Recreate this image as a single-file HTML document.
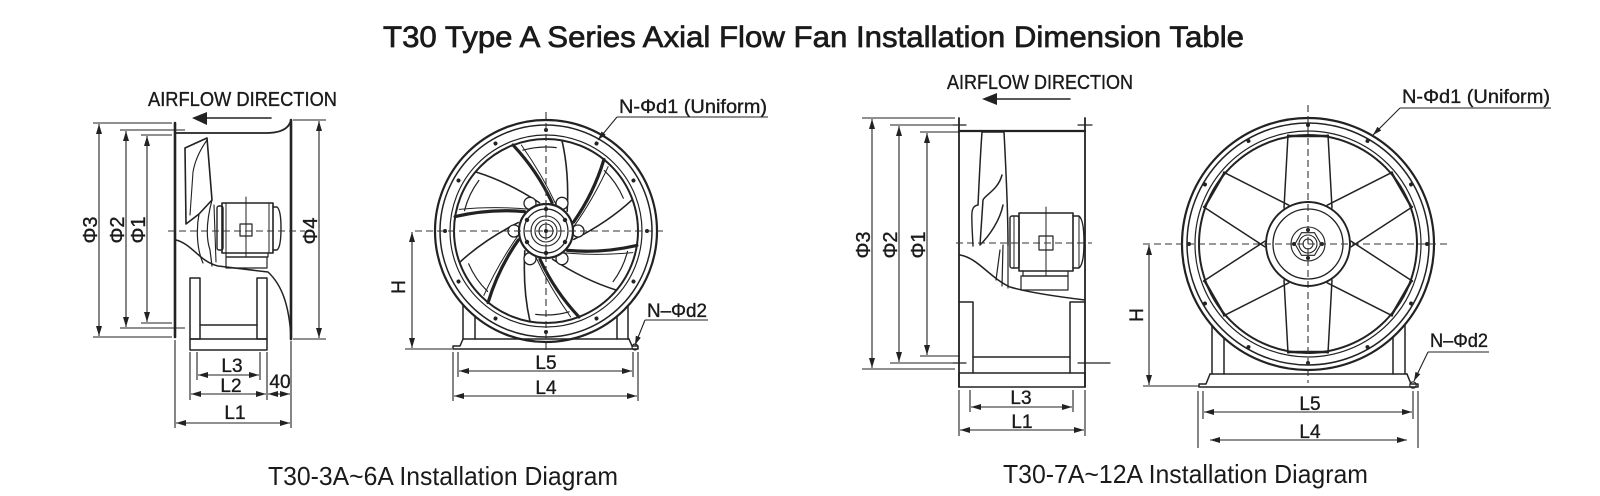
<!DOCTYPE html>
<html>
<head>
<meta charset="utf-8">
<style>
  html,body{margin:0;padding:0;background:#fff;}
  svg{display:block;}
  text{font-family:"Liberation Sans", sans-serif; fill:#1a1a1a;}
  .o{stroke:#222;fill:none;stroke-linejoin:round;stroke-linecap:round;}
  .d{stroke:#222;fill:none;stroke-width:1.1;}
  .dm{marker-start:url(#ar);marker-end:url(#ar);}
  .ds{stroke:#333;fill:none;stroke-width:1.1;stroke-dasharray:7 4;}
  .lb{stroke:#1a1a1a;stroke-width:0.35;}
</style>
</head>
<body>
<svg width="1600" height="496" viewBox="0 0 1600 496" xmlns="http://www.w3.org/2000/svg">
<defs>
  <marker id="ar" viewBox="0 0 10 6" refX="10" refY="3" markerWidth="10" markerHeight="6" markerUnits="userSpaceOnUse" orient="auto-start-reverse">
    <path d="M0,0 L10,3 L0,6 z" fill="#222"/>
  </marker>
  <marker id="ae" viewBox="0 0 10 6" refX="10" refY="3" markerWidth="9" markerHeight="6" markerUnits="userSpaceOnUse" orient="auto">
    <path d="M0,0 L10,3 L0,6 z" fill="#222"/>
  </marker>
</defs>
<rect width="1600" height="496" fill="#fff"/>

<!-- Title -->
<text x="383" y="47" font-size="30" textLength="861" lengthAdjust="spacingAndGlyphs" stroke="#1a1a1a" stroke-width="0.7">T30 Type A Series Axial Flow Fan Installation Dimension Table</text>

<!-- ================= LEFT SIDE VIEW ================= -->
<text class="lb" x="148" y="106" font-size="20" textLength="189" lengthAdjust="spacingAndGlyphs">AIRFLOW DIRECTION</text>
<path d="M207,118 L271,118" class="o" stroke-width="1.6"/>
<path d="M192,118 L207,112 L207,125 Z" fill="#222"/>

<g class="o">
  <path d="M175,123 L175,337" stroke-width="2.6"/>
  <path d="M176,133 L266,133 C280,133 289,129 291,120" stroke-width="1.8"/>
  <path d="M291,120 L291,339" stroke-width="2.6"/>
  <path d="M176,240 C192,244 200,262 218,266 L268,272 C282,285 289,305 291,337" stroke-width="1.5"/>
  <!-- blade -->
  <path d="M185,148 L207,138 L212,200 L199,214 L186,224 Z" stroke-width="1.6"/>
  <path d="M207,140 C200,150 195,160 193,172 L190,215" stroke-width="1.1"/>
  <path d="M212,200 C208,215 205,235 210,250 L212,266" stroke-width="1.2"/>
  <path d="M199,214 C196,230 197,250 203,263" stroke-width="1.2"/>
  <path d="M214,205 L216,262" stroke-width="1.1"/>
  <!-- motor -->
  <rect x="222" y="203" width="51" height="50" stroke-width="1.6"/>
  <rect x="217" y="206" width="6" height="44" rx="2" stroke-width="1.4"/>
  <path d="M273,207 L277,207 Q281,210 281,228 Q281,247 277,250 L273,250" stroke-width="1.4"/>
  <path d="M226,203 L226,253 M269,203 L269,253" stroke-width="1"/>
  <path d="M226,253 L226,257 L268,257 L268,253" stroke-width="1.2"/>
  <rect x="226" y="257" width="41" height="11" stroke-width="1.2"/>
  <path d="M246,197 L246,257" stroke-width="1"/>
  <rect x="240" y="224" width="12" height="12" stroke-width="1.2"/>
  <!-- support -->
  <rect x="190" y="278" width="10" height="61" stroke-width="1.5"/>
  <rect x="257" y="278" width="10" height="61" stroke-width="1.5"/>
  <path d="M200,325 L257,325" stroke-width="1.5"/>
  <rect x="190" y="339" width="77" height="11" stroke-width="1.5"/>
</g>
<path d="M168,231 L305,231" class="ds"/>

<!-- dims left side -->
<path d="M93,123 H172 M93,337 H172 M120,130 H185 M120,328 H185 M141,135 H172 M141,323 H172 M293,120 H326 M293,339 H326" class="d"/>
<line x1="99" y1="124" x2="99" y2="336" class="d dm"/>
<line x1="126" y1="131" x2="126" y2="327" class="d dm"/>
<line x1="147" y1="136" x2="147" y2="322" class="d dm"/>
<line x1="319" y1="121" x2="319" y2="338" class="d dm"/>
<text class="lb" transform="translate(97,230) rotate(-90)" font-size="20" text-anchor="middle">Φ3</text>
<text class="lb" transform="translate(124,230) rotate(-90)" font-size="20" text-anchor="middle">Φ2</text>
<text class="lb" transform="translate(145,230) rotate(-90)" font-size="20" text-anchor="middle">Φ1</text>
<text class="lb" transform="translate(317,231) rotate(-90)" font-size="20" text-anchor="middle">Φ4</text>

<path d="M197,352 V380 M260,352 V380 M190,352 V400 M267,352 V400 M291,341 V428 M175,340 V428" class="d"/>
<line x1="198" y1="375" x2="259" y2="375" class="d dm"/>
<line x1="191" y1="394" x2="266" y2="394" class="d dm"/>
<line x1="268" y1="394" x2="290" y2="394" class="d dm"/>
<line x1="176" y1="423" x2="290" y2="423" class="d dm"/>
<text class="lb" x="232" y="372" font-size="19" text-anchor="middle">L3</text>
<text class="lb" x="231" y="392" font-size="19" text-anchor="middle">L2</text>
<text class="lb" x="280" y="388" font-size="19" text-anchor="middle">40</text>
<text class="lb" x="235" y="419" font-size="19" text-anchor="middle">L1</text>

<!-- ================= LEFT FRONT VIEW ================= -->
<g class="o">
  <path d="M463,305 L463,339 M475,316 L475,339 M617,316 L617,339 M628,306 L628,339" stroke-width="1.5"/>
  <path d="M463,339 L629,339" stroke-width="1.6"/>
  <path d="M463,339 L460,346 L453,346 L453,349 L638,349 L638,346 L632,346 L629,339" stroke-width="1.5"/>
  <circle cx="635" cy="347" r="3" stroke-width="1.2"/>
  <circle cx="546" cy="231" r="111" stroke-width="2.2"/>
  <circle cx="546" cy="231" r="106" stroke-width="1.5"/>
  <circle cx="546" cy="231" r="96" stroke-width="1.2"/>
  <circle cx="546" cy="231" r="92" stroke-width="2"/>
</g>
<g fill="#222">
  <circle cx="647" cy="231" r="2"/>
  <circle cx="647" cy="231" r="2" transform="rotate(30 546 231)"/>
  <circle cx="647" cy="231" r="2" transform="rotate(60 546 231)"/>
  <circle cx="647" cy="231" r="2" transform="rotate(90 546 231)"/>
  <circle cx="647" cy="231" r="2" transform="rotate(120 546 231)"/>
  <circle cx="647" cy="231" r="2" transform="rotate(150 546 231)"/>
  <circle cx="647" cy="231" r="2" transform="rotate(180 546 231)"/>
  <circle cx="647" cy="231" r="2" transform="rotate(210 546 231)"/>
  <circle cx="647" cy="231" r="2" transform="rotate(240 546 231)"/>
  <circle cx="647" cy="231" r="2" transform="rotate(270 546 231)"/>
  <circle cx="647" cy="231" r="2" transform="rotate(300 546 231)"/>
  <circle cx="647" cy="231" r="2" transform="rotate(330 546 231)"/>
</g>
<g class="o">
  <g transform="rotate(12 546 231)">
    <path d="M546,202 Q525,174 495.9,153.8" stroke-width="3.2"/>
    <path d="M551,204 Q531,177 504,152" stroke-width="1"/>
    <path d="M562.6,207.2 Q556.7,169 542.8,139.1" stroke-width="1.6"/>
    <path d="M506.6,156.8 A84,84 0 0 1 538.7,147.3" stroke-width="1.2"/>
  </g>
  <g transform="rotate(72 546 231)">
    <path d="M546,202 Q525,174 495.9,153.8" stroke-width="3.2"/>
    <path d="M551,204 Q531,177 504,152" stroke-width="1"/>
    <path d="M562.6,207.2 Q556.7,169 542.8,139.1" stroke-width="1.6"/>
    <path d="M506.6,156.8 A84,84 0 0 1 538.7,147.3" stroke-width="1.2"/>
  </g>
  <g transform="rotate(132 546 231)">
    <path d="M546,202 Q525,174 495.9,153.8" stroke-width="3.2"/>
    <path d="M551,204 Q531,177 504,152" stroke-width="1"/>
    <path d="M562.6,207.2 Q556.7,169 542.8,139.1" stroke-width="1.6"/>
    <path d="M506.6,156.8 A84,84 0 0 1 538.7,147.3" stroke-width="1.2"/>
  </g>
  <g transform="rotate(192 546 231)">
    <path d="M546,202 Q525,174 495.9,153.8" stroke-width="3.2"/>
    <path d="M551,204 Q531,177 504,152" stroke-width="1"/>
    <path d="M562.6,207.2 Q556.7,169 542.8,139.1" stroke-width="1.6"/>
    <path d="M506.6,156.8 A84,84 0 0 1 538.7,147.3" stroke-width="1.2"/>
  </g>
  <g transform="rotate(252 546 231)">
    <path d="M546,202 Q525,174 495.9,153.8" stroke-width="3.2"/>
    <path d="M551,204 Q531,177 504,152" stroke-width="1"/>
    <path d="M562.6,207.2 Q556.7,169 542.8,139.1" stroke-width="1.6"/>
    <path d="M506.6,156.8 A84,84 0 0 1 538.7,147.3" stroke-width="1.2"/>
  </g>
  <g transform="rotate(312 546 231)">
    <path d="M546,202 Q525,174 495.9,153.8" stroke-width="3.2"/>
    <path d="M551,204 Q531,177 504,152" stroke-width="1"/>
    <path d="M562.6,207.2 Q556.7,169 542.8,139.1" stroke-width="1.6"/>
    <path d="M506.6,156.8 A84,84 0 0 1 538.7,147.3" stroke-width="1.2"/>
  </g>
</g>
<g stroke="#222" fill="#fff" stroke-width="1.3">
  <circle cx="530" cy="203.3" r="6"/>
  <circle cx="562" cy="203.3" r="6"/>
  <circle cx="578" cy="231" r="6"/>
  <circle cx="562" cy="258.7" r="6"/>
  <circle cx="530" cy="258.7" r="6"/>
  <circle cx="514" cy="231" r="6"/>
  <circle cx="546" cy="231" r="27" stroke-width="2.2"/>
  <circle cx="546" cy="231" r="22" stroke-width="1.2"/>
  <circle cx="546" cy="231" r="15" stroke-width="1.1"/>
  <circle cx="546" cy="231" r="11" stroke-width="1.1"/>
  <circle cx="546" cy="231" r="7" stroke-width="1.1"/>
</g>
<g fill="#222">
  <circle cx="546" cy="209" r="2.2"/>
  <circle cx="565" cy="220" r="2.2"/>
  <circle cx="565" cy="242" r="2.2"/>
  <circle cx="546" cy="253" r="2.2"/>
  <circle cx="527" cy="242" r="2.2"/>
  <circle cx="527" cy="220" r="2.2"/>
  <circle cx="546" cy="231" r="2"/>
</g>
<path d="M546,112 L546,352 M415,231 L663,231" class="ds"/>

<!-- dims left front -->
<path d="M405,349 H452" class="d"/>
<line x1="412" y1="232" x2="412" y2="348" class="d dm"/>
<text class="lb" transform="translate(405,287) rotate(-90)" font-size="19" text-anchor="middle">H</text>
<path d="M458,352 V377 M633,352 V377 M453,352 V401 M638,352 V401" class="d"/>
<line x1="459" y1="371" x2="632" y2="371" class="d dm"/>
<line x1="454" y1="396" x2="637" y2="396" class="d dm"/>
<text class="lb" x="546" y="369" font-size="19" text-anchor="middle">L5</text>
<text class="lb" x="546" y="394" font-size="19" text-anchor="middle">L4</text>

<text class="lb" x="619" y="113" font-size="19" textLength="148" lengthAdjust="spacingAndGlyphs">N-Φd1 (Uniform)</text>
<path d="M617,117 H768" class="d"/>
<line x1="617" y1="117" x2="598" y2="140" class="d" marker-end="url(#ae)"/>
<text class="lb" x="647" y="317" font-size="19" textLength="60" lengthAdjust="spacingAndGlyphs">N–Φd2</text>
<path d="M645,320 H708" class="d"/>
<line x1="645" y1="320" x2="635" y2="345" class="d" marker-end="url(#ae)"/>

<!-- ================= RIGHT SIDE VIEW ================= -->
<text class="lb" x="947" y="89" font-size="20" textLength="186" lengthAdjust="spacingAndGlyphs">AIRFLOW DIRECTION</text>
<path d="M997,99 L1070,99" class="o" stroke-width="1.6"/>
<path d="M982,99 L997,93 L997,105 Z" fill="#222"/>

<g class="o">
  <path d="M959,118 L959,387" stroke-width="1.8"/>
  <path d="M1085,118 L1085,387" stroke-width="1.8"/>
  <path d="M953,125 H966 M1078,125 H1092 M953,363 H966 M1078,363 H1110" stroke-width="1.2"/>
  <path d="M959,131 L1085,131" stroke-width="2.2"/>
  <path d="M982,132 L1004,132 C1006,170 1008,210 1008,245" stroke-width="1.5"/>
  <path d="M982,132 C980,160 979,185 978,205" stroke-width="1.5"/>
  <path d="M978,205 C970,206 972,216 972,226 L973,246" stroke-width="1.4"/>
  <path d="M1002,175 C998,190 985,195 983,200 L980,245 C990,235 1000,220 1003,205" stroke-width="1.5"/>
  <path d="M1003,245 L1002,286 M1008,245 L1008,288 M1000,250 L996,280" stroke-width="1.2"/>
  <rect x="1019" y="213" width="54" height="58" stroke-width="1.6"/>
  <rect x="1010" y="216" width="9" height="52" rx="2" stroke-width="1.4"/>
  <path d="M1073,216 L1079,216 Q1084,220 1084,242 Q1084,264 1079,268 L1073,268" stroke-width="1.4"/>
  <path d="M1014,216 L1014,268 M1079,216 L1079,268" stroke-width="1"/>
  <path d="M1023,271 L1023,276 L1068,276 L1068,271" stroke-width="1.2"/>
  <rect x="1021" y="276" width="47" height="14" stroke-width="1.2"/>
  <path d="M1046,207 L1046,276" stroke-width="1"/>
  <rect x="1039" y="236" width="14" height="14" stroke-width="1.2"/>
  <path d="M960,255 C978,258 990,278 1010,287 C1030,293 1060,297 1085,300" stroke-width="1.5"/>
  <path d="M959,302 L973,302 L973,373 M1085,302 L1070,302 L1070,373" stroke-width="1.5"/>
  <path d="M973,357 L1070,357" stroke-width="1.5"/>
  <rect x="959" y="373" width="126" height="14" stroke-width="1.5"/>
</g>
<path d="M956,243 L1092,243" class="ds"/>

<!-- dims right side -->
<path d="M862,118 H955 M862,369 H955 M890,125 H962 M890,363 H962 M920,132 H960 M920,356 H960" class="d"/>
<line x1="872" y1="119" x2="872" y2="368" class="d dm"/>
<line x1="899" y1="126" x2="899" y2="362" class="d dm"/>
<line x1="927" y1="133" x2="927" y2="355" class="d dm"/>
<text class="lb" transform="translate(870,245) rotate(-90)" font-size="20" text-anchor="middle">Φ3</text>
<text class="lb" transform="translate(897,245) rotate(-90)" font-size="20" text-anchor="middle">Φ2</text>
<text class="lb" transform="translate(925,245) rotate(-90)" font-size="20" text-anchor="middle">Φ1</text>
<path d="M970,390 V412 M1073,390 V412 M959,390 V436 M1085,390 V436" class="d"/>
<line x1="971" y1="407" x2="1072" y2="407" class="d dm"/>
<line x1="960" y1="430" x2="1084" y2="430" class="d dm"/>
<text class="lb" x="1021" y="404" font-size="19" text-anchor="middle">L3</text>
<text class="lb" x="1022" y="428" font-size="19" text-anchor="middle">L1</text>

<!-- ================= RIGHT FRONT VIEW ================= -->
<g class="o">
  <path d="M1212,326 L1212,374 M1224,338 L1224,374 M1393,337 L1393,374 M1405,324 L1405,374" stroke-width="1.5"/>
  <path d="M1210,374 L1407,374" stroke-width="1.6"/>
  <path d="M1210,374 L1206,384 L1199,384 L1199,387 L1418,387 L1418,384 L1411,384 L1407,374" stroke-width="1.5"/>
  <circle cx="1413" cy="385" r="3.2" stroke-width="1.2"/>
  <circle cx="1308" cy="244" r="126" stroke-width="2.2"/>
  <circle cx="1308" cy="244" r="121" stroke-width="1.5"/>
  <circle cx="1308" cy="244" r="113" stroke-width="1.2"/>
  <circle cx="1308" cy="244" r="109" stroke-width="2"/>
</g>
<g fill="#222">
  <circle cx="1427" cy="244" r="2"/>
  <circle cx="1427" cy="244" r="2" transform="rotate(30 1308 244)"/>
  <circle cx="1427" cy="244" r="2" transform="rotate(60 1308 244)"/>
  <circle cx="1427" cy="244" r="2" transform="rotate(90 1308 244)"/>
  <circle cx="1427" cy="244" r="2" transform="rotate(120 1308 244)"/>
  <circle cx="1427" cy="244" r="2" transform="rotate(150 1308 244)"/>
  <circle cx="1427" cy="244" r="2" transform="rotate(180 1308 244)"/>
  <circle cx="1427" cy="244" r="2" transform="rotate(210 1308 244)"/>
  <circle cx="1427" cy="244" r="2" transform="rotate(240 1308 244)"/>
  <circle cx="1427" cy="244" r="2" transform="rotate(270 1308 244)"/>
  <circle cx="1427" cy="244" r="2" transform="rotate(300 1308 244)"/>
  <circle cx="1427" cy="244" r="2" transform="rotate(330 1308 244)"/>
</g>
<g class="o" stroke-width="1.5">
  <g><path d="M1284,208 L1288,135 M1332,208 L1328,135"/><path d="M1288,136 L1328,136" stroke-width="2.4"/></g>
  <g transform="rotate(60 1308 244)"><path d="M1284,208 L1288,135 M1332,208 L1328,135"/><path d="M1288,136 L1328,136" stroke-width="2.4"/></g>
  <g transform="rotate(120 1308 244)"><path d="M1284,208 L1288,135 M1332,208 L1328,135"/><path d="M1288,136 L1328,136" stroke-width="2.4"/></g>
  <g transform="rotate(180 1308 244)"><path d="M1284,208 L1288,135 M1332,208 L1328,135"/><path d="M1288,136 L1328,136" stroke-width="2.4"/></g>
  <g transform="rotate(240 1308 244)"><path d="M1284,208 L1288,135 M1332,208 L1328,135"/><path d="M1288,136 L1328,136" stroke-width="2.4"/></g>
  <g transform="rotate(300 1308 244)"><path d="M1284,208 L1288,135 M1332,208 L1328,135"/><path d="M1288,136 L1328,136" stroke-width="2.4"/></g>
</g>
<g stroke="#222" fill="#fff">
  <circle cx="1308" cy="244" r="42" stroke-width="1.9"/>
  <circle cx="1308" cy="244" r="35" stroke-width="1.3"/>
  <circle cx="1308" cy="244" r="17" stroke-width="1.1"/>
  <polygon points="1321,244 1314.5,255.3 1301.5,255.3 1295,244 1301.5,232.7 1314.5,232.7" stroke-width="1.1"/>
  <circle cx="1308" cy="244" r="9" stroke-width="1.1"/>
  <circle cx="1308" cy="244" r="5" stroke-width="1"/>
</g>
<g fill="#222">
  <circle cx="1308" cy="230" r="2"/>
  <circle cx="1322" cy="244" r="2"/>
  <circle cx="1308" cy="258" r="2"/>
  <circle cx="1294" cy="244" r="2"/>
</g>
<path d="M1308,105 L1308,383 M1143,244 L1448,244" class="ds"/>

<!-- dims right front -->
<path d="M1143,386 H1199" class="d"/>
<line x1="1149" y1="245" x2="1149" y2="385" class="d dm"/>
<text class="lb" transform="translate(1143,315) rotate(-90)" font-size="19" text-anchor="middle">H</text>
<path d="M1203,391 V419 M1413,391 V419 M1198,391 V448 M1418,391 V448" class="d"/>
<line x1="1204" y1="412" x2="1412" y2="412" class="d dm"/>
<line x1="1210" y1="440" x2="1407" y2="440" class="d dm"/>
<text class="lb" x="1310" y="410" font-size="19" text-anchor="middle">L5</text>
<text class="lb" x="1310" y="438" font-size="19" text-anchor="middle">L4</text>

<text class="lb" x="1402" y="103" font-size="19" textLength="148" lengthAdjust="spacingAndGlyphs">N-Φd1 (Uniform)</text>
<path d="M1400,108 H1551" class="d"/>
<line x1="1400" y1="108" x2="1373" y2="135" class="d" marker-end="url(#ae)"/>
<text class="lb" x="1430" y="347" font-size="19" textLength="58" lengthAdjust="spacingAndGlyphs">N–Φd2</text>
<path d="M1428,352 H1489" class="d"/>
<line x1="1428" y1="352" x2="1414" y2="381" class="d" marker-end="url(#ae)"/>

<!-- captions -->
<text x="268" y="485" font-size="26" textLength="350" lengthAdjust="spacingAndGlyphs">T30-3A~6A Installation Diagram</text>
<text x="1003" y="483" font-size="26" textLength="365" lengthAdjust="spacingAndGlyphs">T30-7A~12A Installation Diagram</text>
</svg>
</body>
</html>
